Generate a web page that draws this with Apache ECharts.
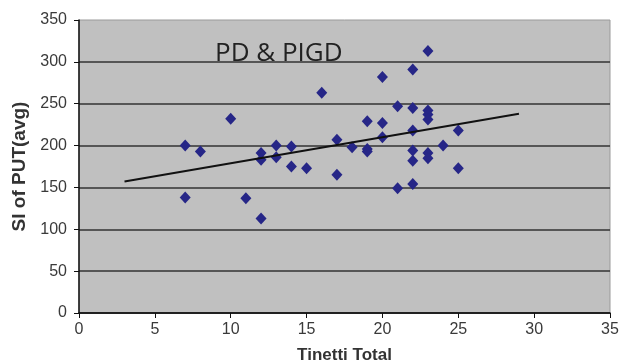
<!DOCTYPE html>
<html>
<head>
<meta charset="utf-8">
<script src="https://cdn.jsdelivr.net/npm/echarts@6/dist/echarts.min.js"></script>
<style>
  html, body { margin: 0; padding: 0; background: #fff; }
  #chart { width: 620px; height: 364px; }
</style>
</head>
<body>
<div id="chart"></div>
<script>
// Tinetti total vs SI of PUT(avg), PD & PIGD group
const tinetti = [7, 7, 8, 10, 11, 12, 12, 12, 13, 13, 14, 14, 15, 16, 17, 17, 18, 19, 19, 19, 20, 20, 20, 21, 21, 22, 22, 22, 22, 22, 22, 23, 23, 23, 23, 23, 23, 24, 25, 25]
const siPut = [200, 138, 193, 232, 137, 191, 183, 113, 200, 186, 199, 175, 173, 263, 207, 165, 198, 229, 196, 193, 282, 227, 210, 247, 149, 291, 245, 218, 194, 182, 154, 313, 242, 237, 231, 191, 185, 200, 218, 173]
const trendX = [3, 29]
const trendY = [157, 238]

const chart = echarts.init(document.getElementById('chart'))
chart.setOption({
  backgroundColor: '#fff',
  animation: false,
  textStyle: { fontFamily: 'Liberation Sans, Arial, sans-serif' },
  grid: {
    left: 79, right: 10, top: 20, bottom: 51,
    outerBoundsMode: 'none',
    containLabel: false,
    show: true,
    backgroundColor: '#c0c0c0',
    borderColor: '#9a9a9a',
    borderWidth: 1
  },
  title: {
    text: 'PD & PIGD',
    left: 210,
    top: 36,
    textStyle: { fontFamily: 'Open Sans, Noto Sans, sans-serif', fontSize: 26, fontWeight: 'normal', color: '#222' }
  },
  xAxis: {
    type: 'value',
    min: 0, max: 35, interval: 5,
    name: 'Tinetti Total',
    nameLocation: 'middle',
    nameGap: 34,
    nameTextStyle: { fontWeight: 'bold', fontSize: 17, color: '#333' },
    axisLine: { lineStyle: { color: '#111', width: 1.5 } },
    axisTick: { length: 5, lineStyle: { color: '#111' } },
    axisLabel: { fontSize: 16, color: '#3a3a3a', margin: 9 },
    splitLine: { show: false }
  },
  yAxis: {
    type: 'value',
    min: 0, max: 350, interval: 50,
    name: 'SI of PUT(avg)',
    nameLocation: 'middle',
    nameGap: 45,
    nameTextStyle: { fontWeight: 'bold', fontSize: 19, color: '#333' },
    axisLine: { show: true, lineStyle: { color: '#111', width: 1.5 } },
    axisTick: { show: true, length: 5, lineStyle: { color: '#111' } },
    axisLabel: { fontSize: 16, color: '#3a3a3a', margin: 12 },
    splitLine: { show: true, showMaxLine: false, lineStyle: { color: '#333', width: 1.5 } }
  },
  series: [
    {
      type: 'scatter',
      symbol: 'diamond',
      symbolSize: [11, 12],
      itemStyle: { color: '#262687', opacity: 1 },
      data: tinetti.map((x, i) => [x, siPut[i]]),
      z: 3
    },
    {
      type: 'line',
      data: trendX.map((x, i) => [x, trendY[i]]),
      showSymbol: false,
      symbol: 'none',
      lineStyle: { color: '#111', width: 2 },
      z: 4
    }
  ]
})
</script>
</body>
</html>
